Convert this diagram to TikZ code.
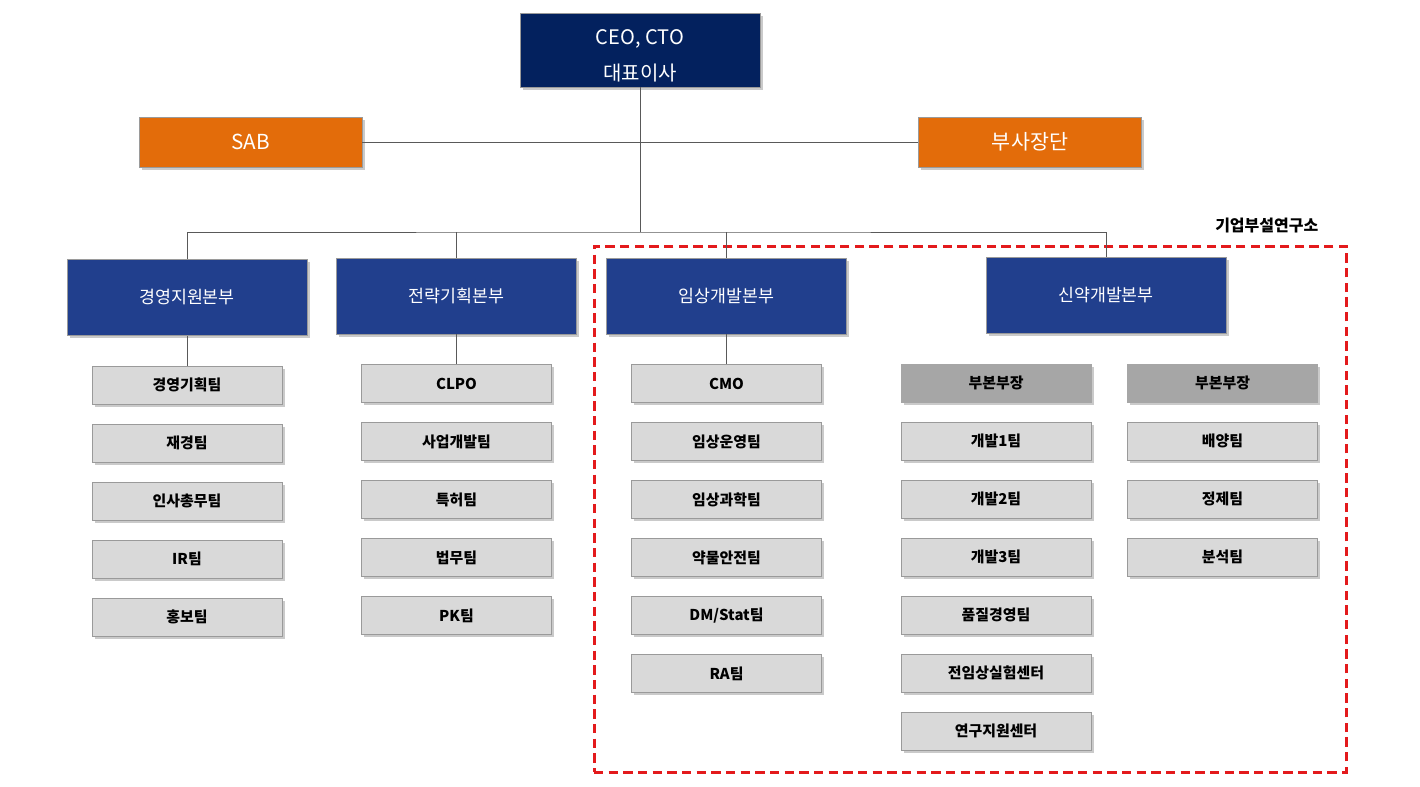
\documentclass[tikz,border=0pt]{standalone}
\usepackage{fontspec}
\setmainfont{Noto Sans CJK KR}
\usepackage{tikz}
\usetikzlibrary{positioning,shadows}
\definecolor{ceoblue}{HTML}{03215E}
\definecolor{divblue}{HTML}{213F8D}
\definecolor{advorange}{HTML}{E36C0A}
\definecolor{teamgray}{HTML}{D9D9D9}
\definecolor{headgray}{HTML}{A6A6A6}
\definecolor{edgegray}{HTML}{9A9A9A}
\definecolor{linegray}{HTML}{595959}
\definecolor{labred}{HTML}{E31A1C}
\tikzset
{
    boxshadow/.style = {drop shadow={shadow xshift=2pt, shadow yshift=-2pt, opacity=0.35, fill=black!60}},
    ceonode/.style   = {rectangle, draw=edgegray, fill=ceoblue, text=white, align=center, minimum width=180pt, minimum height=55.5pt, font=\fontsize{15}{27}\selectfont, boxshadow},
    advnode/.style   = {rectangle, draw=edgegray, fill=advorange, text=white, align=center, minimum width=167pt, minimum height=37.5pt, font=\fontsize{15.5}{18}\selectfont, boxshadow},
    divnode/.style   = {rectangle, draw=edgegray, fill=divblue, text=white, align=center, minimum width=180pt, minimum height=57pt, font=\fontsize{13}{16}\selectfont, boxshadow},
    teamnode/.style  = {rectangle, draw=edgegray, fill=teamgray, text=black, align=center, minimum width=142.5pt, minimum height=28.5pt, font=\bfseries\fontsize{11.2}{13}\selectfont, boxshadow},
    headnode/.style  = {teamnode, draw=headgray, fill=headgray},
    conn/.style      = {draw=linegray, line width=0.75pt},
    labframe/.style  = {draw=labred, line width=2.25pt, dash pattern=on 7pt off 4pt}
}

\begin{document}
\begin{tikzpicture}[x=0.75pt, y=-0.75pt, node distance=14.6pt]
    \useasboundingbox (0,0) rectangle (1420,786);

    % top
    \node [ceonode] (ceo) at (640,50) {\rule{0pt}{20pt}CEO, CTO \\ 대표이사};
    \node [advnode] (sab) at (250.5,142) {SAB};
    \node [advnode] (vp)  at (1030,142) {부사장단};
    \coordinate (bus) at (640,232);

    % divisions
    \node [divnode] (mgmt)  at (187,297.5) {경영지원본부};
    \node [divnode] (strat) at (456.5,296) {전략기획본부};
    \node [divnode] (clin)  at (726.5,296) {임상개발본부};
    \node [divnode] (drug)  at (1106,295)  {신약개발본부};

    % 경영지원본부
    \node [teamnode, below=22.5pt of mgmt] (m1) {경영기획팀};
    \node [teamnode, below=of m1] (m2) {재경팀};
    \node [teamnode, below=of m2] (m3) {인사총무팀};
    \node [teamnode, below=of m3] (m4) {IR팀};
    \node [teamnode, below=of m4] (m5) {홍보팀};

    % 전략기획본부
    \node [teamnode, below=22.5pt of strat] (s1) {CLPO};
    \node [teamnode, below=of s1] (s2) {사업개발팀};
    \node [teamnode, below=of s2] (s3) {특허팀};
    \node [teamnode, below=of s3] (s4) {법무팀};
    \node [teamnode, below=of s4] (s5) {PK팀};

    % 임상개발본부
    \node [teamnode, below=22.5pt of clin] (c1) {CMO};
    \node [teamnode, below=of c1] (c2) {임상운영팀};
    \node [teamnode, below=of c2] (c3) {임상과학팀};
    \node [teamnode, below=of c3] (c4) {약물안전팀};
    \node [teamnode, below=of c4] (c5) {DM/Stat팀};
    \node [teamnode, below=of c5] (c6) {RA팀};

    % 신약개발본부
    \node [headnode] (d1) at (996,383) {부본부장};
    \node [teamnode, below=of d1] (d2) {개발1팀};
    \node [teamnode, below=of d2] (d3) {개발2팀};
    \node [teamnode, below=of d3] (d4) {개발3팀};
    \node [teamnode, below=of d4] (d5) {품질경영팀};
    \node [teamnode, below=of d5] (d6) {전임상실험센터};
    \node [teamnode, below=of d6] (d7) {연구지원센터};

    \node [headnode] (e1) at (1222.5,383) {부본부장};
    \node [teamnode, below=of e1] (e2) {배양팀};
    \node [teamnode, below=of e2] (e3) {정제팀};
    \node [teamnode, below=of e3] (e4) {분석팀};

    % 기업부설연구소
    \node [labframe, minimum width=564pt, minimum height=394.5pt] (lab) at (970,509) {};
    \node [font=\bfseries\fontsize{12}{14}\selectfont, anchor=south east] (labname) at (1323,238) {기업부설연구소};

    % connectors
    \draw [conn] (sab.east) -- (vp.west);
    \draw [conn] (ceo.south) -- (bus);
    \draw [conn] (mgmt.north) |- (bus) -| (drug.north);
    \draw [conn] (strat.north) -- (strat.north |- bus);
    \draw [conn] (clin.north) -- (clin.north |- bus);
    \draw [conn] (mgmt.south) -- (m1.north);
    \draw [conn] (strat.south) -- (s1.north);
    \draw [conn] (clin.south) -- (c1.north);
\end{tikzpicture}
\end{document}
